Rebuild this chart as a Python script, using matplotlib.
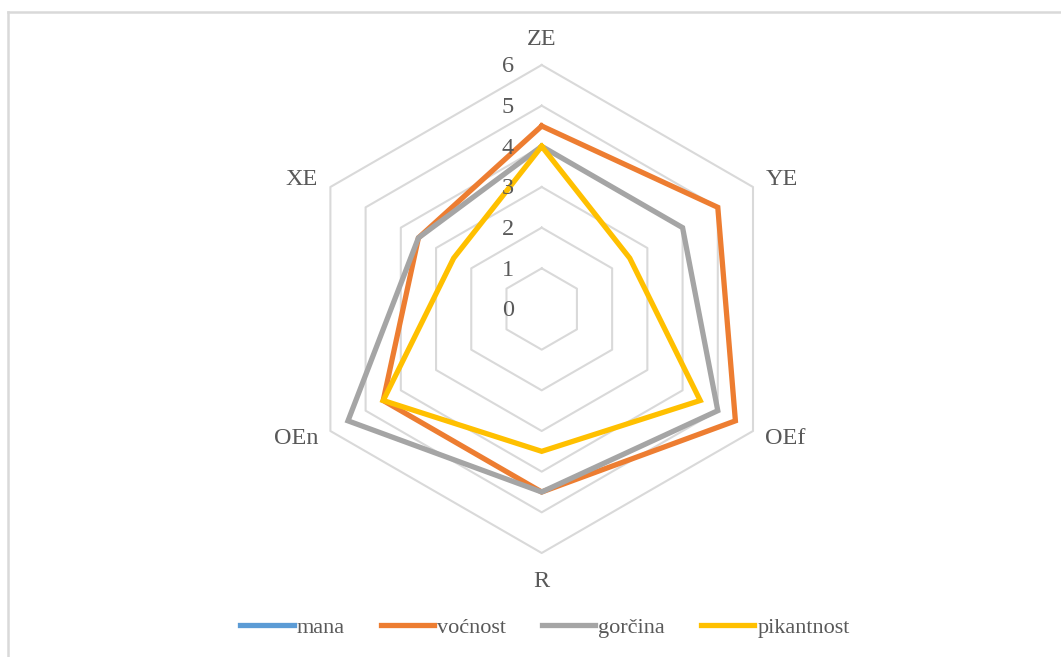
import numpy as np
import matplotlib
matplotlib.use("Agg")
import matplotlib.pyplot as plt
from matplotlib.lines import Line2D

categories = ["ZE", "YE", "OEf", "R", "OEn", "XE"]
mana = [np.nan, np.nan, np.nan, np.nan, np.nan, np.nan]
vocnost = [4.5, 5.0, 5.5, 4.5, 4.5, 3.5]
gorcina = [4.0, 4.0, 5.0, 4.5, 5.5, 3.5]
pikantnost = [4.0, 2.5, 4.5, 3.5, 4.5, 2.5]
series_names = ["mana", "voćnost", "gorčina", "pikantnost"]
series_values = [mana, vocnost, gorcina, pikantnost]
colors = ["#5B9BD5", "#ED7D31", "#A5A5A5", "#FFC000"]
tick_values = [0, 1, 2, 3, 4, 5, 6]

plt.rcParams['font.family'] = ['Liberation Serif', 'DejaVu Serif']
text_color = "#595959"
fs = 17.5

W, H = 1061, 657
fig = plt.figure(figsize=(W / 100, H / 100), dpi=100)

# chart border (top and left lines)
fig.add_artist(Line2D([8 / W, 8 / W], [0, 1 - 12 / H], transform=fig.transFigure,
                      color="#d9d9d9", lw=1.8))
fig.add_artist(Line2D([8 / W, 1], [1 - 12 / H, 1 - 12 / H], transform=fig.transFigure,
                      color="#d9d9d9", lw=1.8))

cx, cy, R = 541.7, 309.0, 244.0
ax = fig.add_axes([(cx - R) / W, (H - cy - R) / H, 2 * R / W, 2 * R / H], projection='polar')
ax.set_theta_zero_location('N')
ax.set_theta_direction(-1)
ax.set_ylim(0, 6)
ax.grid(False)
ax.spines['polar'].set_visible(False)
ax.set_xticks([])
ax.set_yticks([])
ax.patch.set_alpha(0)

n = len(categories)
angles = np.linspace(0, 2 * np.pi, n, endpoint=False)
closed = np.concatenate([angles, angles[:1]])

# hexagonal grid
for v in tick_values[1:]:
    ax.plot(closed, [v] * (n + 1), color="#d9d9d9", lw=1.5, zorder=1, clip_on=False)

# series
for name, vals, col in zip(series_names, series_values, colors):
    vv = list(vals) + [vals[0]]
    ax.plot(closed, vv, color=col, lw=3.8, label=name, zorder=3, clip_on=False,
            solid_joinstyle='miter')

# category labels
for ang, cat in zip(angles, categories):
    deg = np.degrees(ang)
    if deg == 0:
        ax.text(ang, 6.62, cat, ha='center', va='center', fontsize=fs, color=text_color)
    elif deg == 180:
        ax.text(ang, 6.7, cat, ha='center', va='center', fontsize=fs, color=text_color)
    elif deg < 180:
        ax.text(ang, 6.35, cat, ha='left', va='center', fontsize=fs, color=text_color)
    else:
        ax.text(ang, 6.35, cat, ha='right', va='center', fontsize=fs, color=text_color)

# value tick labels
for v in tick_values:
    ax.annotate(str(v), xy=(0, v), xytext=(-34, -2), textcoords='offset pixels',
                ha='center', va='center', fontsize=fs, color=text_color,
                annotation_clip=False)

leg = fig.legend(loc='center', bbox_to_anchor=(545 / W, 1 - 628 / H), ncol=4,
                 frameon=False, fontsize=16, handlelength=2.4, handletextpad=0.15,
                 columnspacing=1.6, labelcolor=text_color)
for h in leg.get_lines():
    h.set_linewidth(3.8)

fig.savefig("out.png", dpi=100, facecolor="white")
